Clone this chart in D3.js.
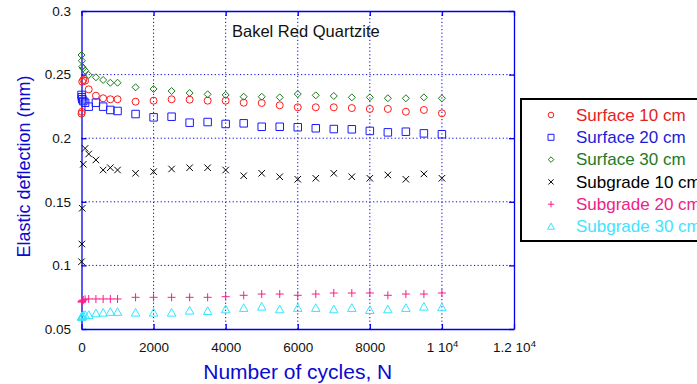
<!DOCTYPE html>
<html>
<head>
<meta charset="utf-8">
<script src="https://cdn.jsdelivr.net/npm/d3@7"></script>
<style>
  body { margin: 0; background: #fff; }
  svg { font-family: "Liberation Sans", Arial, sans-serif; }
</style>
</head>
<body>
<div id="chart"></div>
<script>
// number of load cycles
var cycles = [1, 10, 20, 50, 100, 200, 400, 600, 800, 1000, 1500, 2000, 2500, 3000, 3500, 4000,
              4500, 5000, 5500, 6000, 6500, 7000, 7500, 8000, 8500, 9000, 9500, 10000];

// elastic deflection (mm) per gauge
var surface10 = [0.2193, 0.2208, 0.2444, 0.2458, 0.2452, 0.2384, 0.2334, 0.2314, 0.2306, 0.2306, 0.2287, 0.2295, 0.2306, 0.2303,
                 0.2295, 0.2295, 0.2279, 0.2277, 0.2259, 0.2243, 0.2243, 0.2243, 0.2237, 0.2230, 0.2230, 0.2208, 0.2222, 0.2196];
var surface20 = [0.2340, 0.2322, 0.2306, 0.2292, 0.2279, 0.2248, 0.2279, 0.2248, 0.2222, 0.2214, 0.2190, 0.2164, 0.2169, 0.2122,
                 0.2127, 0.2112, 0.2117, 0.2090, 0.2090, 0.2086, 0.2078, 0.2072, 0.2070, 0.2057, 0.2046, 0.2051, 0.2038, 0.2031];
var surface30 = [0.2654, 0.2609, 0.2562, 0.2549, 0.2531, 0.2497, 0.2479, 0.2458, 0.2436, 0.2436, 0.2400, 0.2387, 0.2371, 0.2355,
                 0.2345, 0.2340, 0.2326, 0.2326, 0.2321, 0.2347, 0.2337, 0.2332, 0.2321, 0.2321, 0.2314, 0.2314, 0.2321, 0.2314];
var subgrade10 = [0.1029, 0.1168, 0.1449, 0.1795, 0.1920, 0.1876, 0.1829, 0.1750, 0.1768, 0.1750, 0.1724, 0.1737, 0.1758, 0.1768,
                  0.1768, 0.1750, 0.1705, 0.1724, 0.1697, 0.1677, 0.1685, 0.1724, 0.1697, 0.1685, 0.1711, 0.1677, 0.1719, 0.1685];
var subgrade20 = [0.0712, 0.0715, 0.0722, 0.0728, 0.0734, 0.0736, 0.0736, 0.0736, 0.0736, 0.0736, 0.0749, 0.0749, 0.0749, 0.0749,
                  0.0749, 0.0754, 0.0765, 0.0775, 0.0775, 0.0765, 0.0775, 0.0783, 0.0783, 0.0783, 0.0765, 0.0775, 0.0775, 0.0783];
var subgrade30 = [0.0595, 0.0597, 0.0600, 0.0605, 0.0610, 0.0610, 0.0623, 0.0628, 0.0634, 0.0634, 0.0628, 0.0628, 0.0628, 0.0644,
                  0.0641, 0.0654, 0.0665, 0.0675, 0.0654, 0.0665, 0.0665, 0.0654, 0.0665, 0.0649, 0.0654, 0.0665, 0.0675, 0.0670];

var seriesNames = ["Surface 10 cm", "Surface 20 cm", "Surface 30 cm", "Subgrade 10 cm", "Subgrade 20 cm", "Subgrade 30 cm"];

var xTicks = [0, 2000, 4000, 6000, 8000, 10000, 12000];
var xTickLabels = ["0", "2000", "4000", "6000", "8000", "1 10^4", "1.2 10^4"];
var yTicks = [0.05, 0.1, 0.15, 0.2, 0.25, 0.3];
var yTickLabels = ["0.05", "0.1", "0.15", "0.2", "0.25", "0.3"];

var series = [
	{name: seriesNames[0], values: surface10, shape: "circle", color: "#ff1a1a", text: "#e8201c"},
	{name: seriesNames[1], values: surface20, shape: "square", color: "#1a1aff", text: "#1c1cd8"},
	{name: seriesNames[2], values: surface30, shape: "diamond", color: "#1a7a1a", text: "#237a23"},
	{name: seriesNames[3], values: subgrade10, shape: "x", color: "#000000", text: "#000000"},
	{name: seriesNames[4], values: subgrade20, shape: "plus", color: "#ff1a8c", text: "#ee2288"},
	{name: seriesNames[5], values: subgrade30, shape: "triangle", color: "#33e6ff", text: "#44e2ff"}
];

var W = 697, H = 384;
var plotL = 81.5, plotR = 514, plotT = 11, plotB = 329;
var axisBlue = "#0000ee";

var svg = d3.select("#chart").append("svg")
	.attr("width", W)
	.attr("height", H);

var x = d3.scaleLinear().domain([0, 12000]).range([plotL, plotR]);
var y = d3.scaleLinear().domain([0.05, 0.3]).range([plotB, plotT]);

// dotted grid
var grid = svg.append("g").attr("stroke", axisBlue).attr("stroke-width", 1).attr("stroke-dasharray", "1.2,2.4");
grid.selectAll(".vg")
	.data(xTicks.slice(1, -1))
	.enter().append("line")
	.attr("x1", function(d) { return x(d); })
	.attr("x2", function(d) { return x(d); })
	.attr("y1", plotT).attr("y2", plotB);
grid.selectAll(".hg")
	.data(yTicks.slice(1, -1))
	.enter().append("line")
	.attr("y1", function(d) { return y(d); })
	.attr("y2", function(d) { return y(d); })
	.attr("x1", plotL).attr("x2", plotR);

// axes, ticks pointing inward
function styleAxis(g) {
	g.selectAll("path, line").attr("stroke", axisBlue).attr("stroke-width", 1.3);
	g.selectAll("text").attr("fill", "#111").style("font-size", "13.5px").style("font-family", "'Liberation Sans', Arial, sans-serif");
}

var xAxis = svg.append("g")
	.attr("transform", "translate(0," + plotB + ")")
	.call(d3.axisBottom(x).tickValues(xTicks).tickSize(-5).tickSizeOuter(0).tickPadding(13)
		.tickFormat(function(d, i) { return xTickLabels[i]; }))
	.call(styleAxis);

// labels with a power of ten get a superscript
xAxis.selectAll(".tick text").each(function() {
	var t = d3.select(this);
	var parts = t.text().split("^");
	if (parts.length === 2) {
		t.text(parts[0]);
		t.append("tspan").attr("dy", "-0.45em").style("font-size", "9.5px").text(parts[1]);
	}
});

svg.append("g")
	.attr("transform", "translate(" + plotL + ",0)")
	.call(d3.axisLeft(y).tickValues(yTicks).tickSize(-5).tickSizeOuter(0).tickPadding(10.5)
		.tickFormat(function(d, i) { return yTickLabels[i]; }))
	.call(styleAxis);

svg.append("g")
	.attr("transform", "translate(0," + plotT + ")")
	.call(d3.axisTop(x).tickValues(xTicks).tickSize(-5).tickSizeOuter(0).tickFormat(""))
	.call(styleAxis);

svg.append("g")
	.attr("transform", "translate(" + plotR + ",0)")
	.call(d3.axisRight(y).tickValues(yTicks).tickSize(-5).tickSizeOuter(0).tickFormat(""))
	.call(styleAxis);

// marker outlines
function markerPath(shape, s) {
	var h = s / 2;
	switch (shape) {
		case "circle":
			return "M" + (-h) + ",0A" + h + "," + h + " 0 1,0 " + h + ",0A" + h + "," + h + " 0 1,0 " + (-h) + ",0Z";
		case "square":
			return "M" + (-h) + "," + (-h) + "H" + h + "V" + h + "H" + (-h) + "Z";
		case "diamond":
			return "M0," + (-h) + "L" + h + ",0L0," + h + "L" + (-h) + ",0Z";
		case "x":
			return "M" + (-h) + "," + (-h) + "L" + h + "," + h + "M" + (-h) + "," + h + "L" + h + "," + (-h);
		case "plus":
			return "M" + (-h) + ",0H" + h + "M0," + (-h) + "V" + h;
		case "triangle":
			return "M0," + (-h) + "L" + h + "," + (h * 0.8) + "L" + (-h) + "," + (h * 0.8) + "Z";
	}
}
var markerSize = {circle: 7, square: 7.5, diamond: 7, x: 6.5, plus: 8, triangle: 8.5};

series.forEach(function(s) {
	svg.append("g")
		.selectAll("path")
		.data(s.values)
		.enter().append("path")
		.attr("d", markerPath(s.shape, markerSize[s.shape]))
		.attr("transform", function(d, i) { return "translate(" + x(cycles[i]) + "," + y(d) + ")"; })
		.attr("fill", "none")
		.attr("stroke", s.color)
		.attr("stroke-width", 1);
});

// title inside the plot
svg.append("text")
	.attr("x", 232).attr("y", 37)
	.style("font-size", "16.5px")
	.attr("fill", "#111")
	.text("Bakel Red Quartzite");

// axis titles
svg.append("text")
	.attr("x", (plotL + plotR) / 2).attr("y", 378.5)
	.attr("text-anchor", "middle")
	.style("font-size", "21px")
	.attr("fill", "#0a0ad0")
	.text("Number of cycles, N");

svg.append("text")
	.attr("transform", "translate(30,166.5) rotate(-90)")
	.attr("text-anchor", "middle")
	.style("font-size", "18px")
	.attr("fill", "#0a0ad0")
	.text("Elastic deflection (mm)");

// legend box runs off the right edge like the original
var legend = svg.append("g");
legend.append("rect")
	.attr("x", 521).attr("y", 99)
	.attr("width", 200).attr("height", 142)
	.attr("fill", "#fff")
	.attr("stroke", "#000")
	.attr("stroke-width", 2);

var rows = legend.selectAll(".row")
	.data(series)
	.enter().append("g")
	.attr("class", "row")
	.attr("transform", function(d, i) { return "translate(0," + (115 + i * 22.3) + ")"; });
rows.append("path")
	.attr("d", function(d) { return markerPath(d.shape, markerSize[d.shape] * 0.8); })
	.attr("transform", "translate(551,0)")
	.attr("fill", "none")
	.attr("stroke", function(d) { return d.color; })
	.attr("stroke-width", 1);
rows.append("text")
	.attr("x", 576).attr("y", 5.8)
	.style("font-size", "17px")
	.attr("fill", function(d) { return d.text; })
	.text(function(d) { return d.name; });
</script>
</body>
</html>
